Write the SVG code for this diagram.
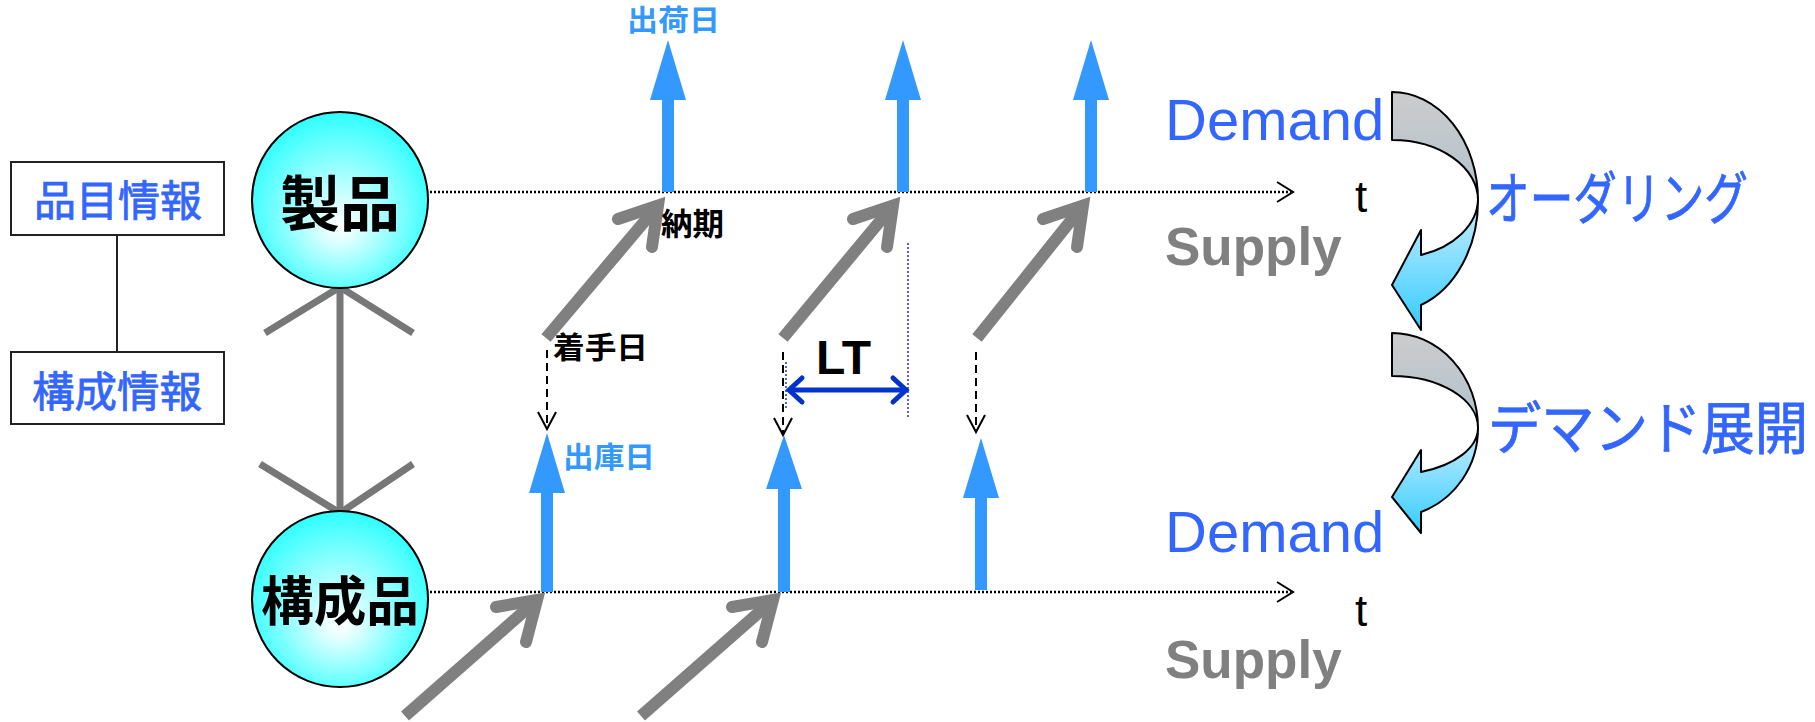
<svg xmlns="http://www.w3.org/2000/svg" width="1815" height="722" viewBox="0 0 1815 722">
<defs>
<radialGradient id="ball" cx="0.5" cy="0.55" r="0.55" fx="0.5" fy="0.65">
<stop offset="0" stop-color="#FFFFFF"/>
<stop offset="0.2" stop-color="#DDFFFF"/>
<stop offset="1" stop-color="#2EFFFF"/>
</radialGradient>
<linearGradient id="grayBand" x1="0" y1="0" x2="0" y2="1">
<stop offset="0" stop-color="#CCCCCC"/>
<stop offset="1" stop-color="#B0C2CE"/>
</linearGradient>
<linearGradient id="blueBand" x1="0" y1="0" x2="0" y2="1">
<stop offset="0" stop-color="#CBEEFF"/>
<stop offset="1" stop-color="#33CCFF"/>
</linearGradient>
<style>
.jp{font-family:"Noto Sans CJK JP","Noto Sans CJK SC",sans-serif;}
.lat{font-family:"Liberation Sans",Arial,sans-serif;}
.blueArrow{fill:#3399FF;stroke:none;}
.grayLine{stroke:#808080;stroke-width:12;fill:none;stroke-linecap:butt;}
.grayHead{stroke:#808080;stroke-width:12;fill:none;stroke-linecap:round;stroke-linejoin:miter;}
.dotted{stroke:#000;stroke-width:2.5;stroke-dasharray:2 2;fill:none;}
.dashed{stroke:#000;stroke-width:2;stroke-dasharray:8 5;fill:none;}
.chev{stroke:#000;stroke-width:2;fill:none;}
.ball{fill:url(#ball);stroke:#000;stroke-width:2;}
.box{fill:#fff;stroke:#222;stroke-width:2;}
.bom{stroke:#777;stroke-width:7;fill:none;}
.curveStroke{stroke:#000;stroke-width:2;stroke-linejoin:round;}
.lblBlue{fill:#3399FF;font-weight:bold;}
.lblBlack{fill:#000;font-weight:bold;}
.bigBlue{fill:#3366FF;stroke:#3366FF;stroke-width:0.8;}
.node{fill:#000;font-weight:bold;}
</style>
</defs>
<rect width="1815" height="722" fill="#fff"/>

<g id="box-hinmoku">
<rect class="box" x="11" y="162" width="213" height="73"/>
<text class="jp bigBlue" x="34" y="216" font-size="42" textLength="168" lengthAdjust="spacingAndGlyphs">品目情報</text>
</g>
<g id="box-kosei">
<rect class="box" x="11" y="352" width="213" height="72"/>
<text class="jp bigBlue" x="32" y="407" font-size="42" textLength="170" lengthAdjust="spacingAndGlyphs">構成情報</text>
</g>

<g id="curve-ordering">
<path class="curveStroke" fill="url(#grayBand)" d="M1392,92 A86,108 0 0 1 1478,200 A86,60 0 0 0 1392,140 Z"/>
<path class="curveStroke" fill="url(#blueBand)" d="M1478,200 A87,111 0 0 1 1421,305 L1421,330 L1392,285 L1421,230 L1421,255 A86,60 0 0 0 1478,200 Z"/>
</g>
<g id="curve-demand">
<path class="curveStroke" fill="url(#grayBand)" d="M1392,333 A86,95 0 0 1 1478,428 A86,52 0 0 0 1392,376 Z"/>
<path class="curveStroke" fill="url(#blueBand)" d="M1478,428 A87,89 0 0 1 1421,512 L1421,533 L1392,497 L1421,450 L1421,472 A86,47 0 0 0 1478,428 Z"/>
</g>

<g id="connectors">
<line x1="117" y1="235" x2="117" y2="352" stroke="#222" stroke-width="2"/>
<line class="bom" x1="340" y1="287" x2="340" y2="513"/>
<polyline class="bom" points="265,333 340,287 413,333"/>
<polyline class="bom" points="260,464 340,513 413,464"/>
<line class="dotted" x1="430" y1="192" x2="1291" y2="192"/>
<polyline class="chev" points="1277,182 1293,192 1277,202"/>
<line class="dotted" x1="430" y1="592" x2="1291" y2="592"/>
<polyline class="chev" points="1277,582 1293,592 1277,602"/>
<polygon class="blueArrow" points="668,40 686,100 674,100 674,192 662,192 662,100 650,100"/>
<polygon class="blueArrow" points="903,40 921,100 909,100 909,192 897,192 897,100 885,100"/>
<polygon class="blueArrow" points="1091,40 1109,100 1097,100 1097,192 1085,192 1085,100 1073,100"/>
<polygon class="blueArrow" points="547,433 565,493 553,493 553,592 541,592 541,493 529,493"/>
<polygon class="blueArrow" points="784,435 802,489 790,489 790,592 778,592 778,489 766,489"/>
<polygon class="blueArrow" points="981,438 999,498 987,498 987,590 975,590 975,498 963,498"/>
<line class="grayLine" x1="546" y1="338" x2="658" y2="205.5"/>
<polyline class="grayHead" points="618,219 658,205.5 652,247"/>
<line class="grayLine" x1="783" y1="338" x2="893" y2="205.5"/>
<polyline class="grayHead" points="853,219 893,205.5 887,247"/>
<line class="grayLine" x1="977" y1="338" x2="1083" y2="205.5"/>
<polyline class="grayHead" points="1043,219 1083,205.5 1077,247"/>
<line class="grayLine" x1="405" y1="716" x2="537" y2="600"/>
<polyline class="grayHead" points="496,607 537,600 526,642"/>
<line class="grayLine" x1="641" y1="716" x2="773" y2="600"/>
<polyline class="grayHead" points="732,607 773,600 762,642"/>
<line class="dashed" x1="547" y1="350" x2="547" y2="427"/>
<polyline class="chev" points="538,412 547,429 556,412"/>
<line class="dashed" x1="783" y1="352" x2="783" y2="433"/>
<polyline class="chev" points="774,418 783,435 792,418"/>
<line class="dashed" x1="976" y1="352" x2="976" y2="430"/>
<polyline class="chev" points="967,415 976,432 985,415"/>
<line x1="786" y1="362" x2="786" y2="410" stroke="#1133DD" stroke-width="1.5" stroke-dasharray="2 2"/>
<line x1="908" y1="243" x2="908" y2="417" stroke="#1133DD" stroke-width="1.5" stroke-dasharray="2 2"/>
<line x1="791" y1="390" x2="904" y2="390" stroke="#0033CC" stroke-width="5"/>
<polyline points="802,378 789,390 802,402" stroke="#0033CC" stroke-width="5" fill="none" stroke-linecap="round"/>
<polyline points="893,378 906,390 893,402" stroke="#0033CC" stroke-width="5" fill="none" stroke-linecap="round"/>
</g>

<g id="node-seihin">
<circle class="ball" cx="340" cy="200" r="88"/>
<text class="jp node" x="280" y="226" font-size="60" textLength="120" lengthAdjust="spacingAndGlyphs">製品</text>
</g>
<g id="node-koseihin">
<circle class="ball" cx="340" cy="599" r="88"/>
<text class="jp node" x="261" y="621" font-size="53" textLength="158" lengthAdjust="spacingAndGlyphs">構成品</text>
</g>

<g id="labels">
<text class="jp lblBlue" x="627" y="31" font-size="29" textLength="93" lengthAdjust="spacingAndGlyphs">出荷日</text>
<text class="jp lblBlack" x="661" y="235" font-size="31" textLength="63" lengthAdjust="spacingAndGlyphs">納期</text>
<text class="jp lblBlack" x="553" y="358" font-size="30" textLength="95" lengthAdjust="spacingAndGlyphs">着手日</text>
<text class="jp lblBlue" x="563" y="468" font-size="29" textLength="92" lengthAdjust="spacingAndGlyphs">出庫日</text>
<text class="lat" x="816" y="374" font-size="48" font-weight="bold" fill="#000">LT</text>
<text class="lat" x="1165" y="140" font-size="58" fill="#3366FF">Demand</text>
<text class="lat" x="1165" y="265" font-size="53" font-weight="bold" fill="#808080">Supply</text>
<text class="lat" x="1355" y="212" font-size="44" fill="#000">t</text>
<text class="lat" x="1165" y="552" font-size="58" fill="#3366FF">Demand</text>
<text class="lat" x="1165" y="678" font-size="53" font-weight="bold" fill="#808080">Supply</text>
<text class="lat" x="1355" y="626" font-size="44" fill="#000">t</text>
<text class="jp bigBlue" transform="translate(1486,219) scale(0.766,1)" font-size="57" stroke-width="0.6">オーダリング</text>
<text class="jp bigBlue" transform="translate(1488,449) scale(0.936,1)" font-size="57" stroke-width="0.6">デマンド展開</text>
</g>
</svg>
